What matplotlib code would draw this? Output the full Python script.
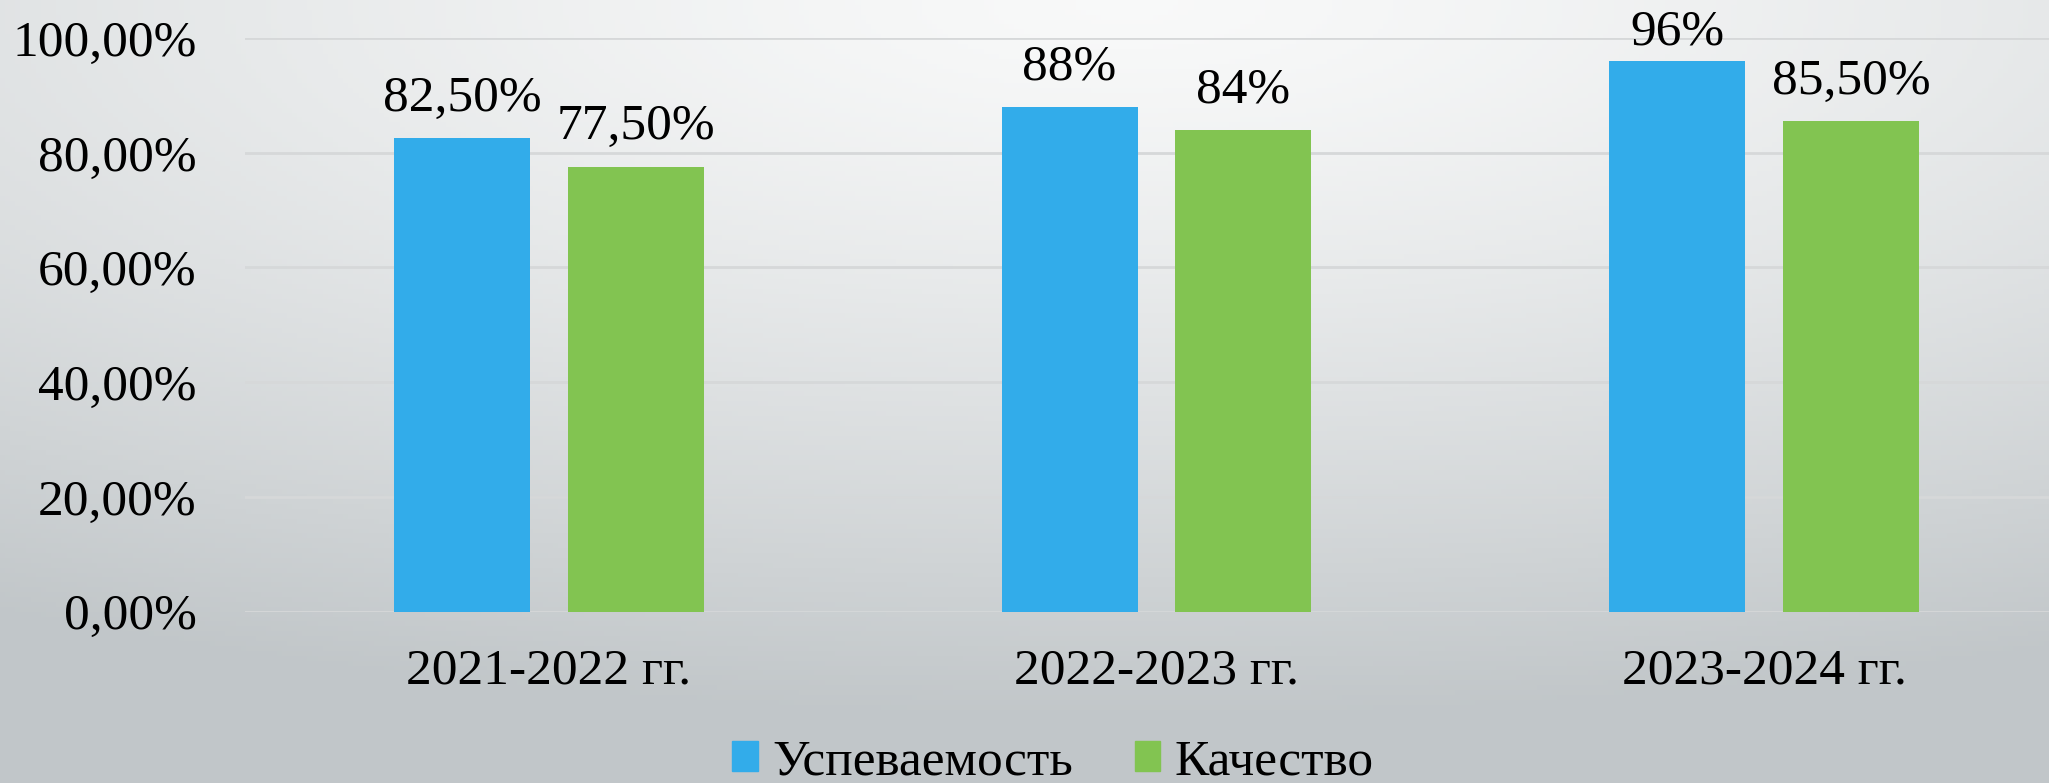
"""Успеваемость и качество по учебным годам: сгруппированные столбцы."""
import matplotlib
matplotlib.use("Agg")
import matplotlib.pyplot as plt
import numpy as np
from matplotlib.patches import Patch

years = ["2021-2022 гг.", "2022-2023 гг.", "2023-2024 гг."]
uspevaemost = [82.5, 88.0, 96.0]
kachestvo = [77.5, 84.0, 85.5]
labels_usp = ["82,50%", "88%", "96%"]
labels_kach = ["77,50%", "84%", "85,50%"]
series_names = ["Успеваемость", "Качество"]

BLUE = "#32ACEA"
GREEN = "#82C451"
FS = 37

plt.rcParams["font.family"] = ["Liberation Serif", "DejaVu Serif"]

W, H = 2049, 783
fig = plt.figure(figsize=(W / 100, H / 100), dpi=100)

# фон: мягкий радиальный градиент (светлее вверху по центру)
bg = fig.add_axes([0, 0, 1, 1], zorder=-10)
gx, gy = np.meshgrid(np.linspace(0, 1, 400), np.linspace(0, 1, 160))
r = np.sqrt((gx - 0.55) ** 2 + (gy * 1.15) ** 2)
r = np.clip(r / 1.05, 0, 1)
c0 = np.array([0.975, 0.978, 0.978])
c1 = np.array([0.76, 0.78, 0.79])
img = c0 + (c1 - c0) * r[..., None] ** 1.3
bg.imshow(img, extent=[0, 1, 0, 1], aspect="auto", origin="upper")
bg.axis("off")

left = 245 / W
right = 2068 / W
bottom = 1 - 611.6 / H
top = 1 - 38 / H
ax = fig.add_axes([left, bottom, right - left, top - bottom])
ax.patch.set_alpha(0)

x = np.arange(len(years))
w = 0.224
off = 0.143
b1 = ax.bar(x - off, uspevaemost, w, color=BLUE, zorder=3)
b2 = ax.bar(x + off, kachestvo, w, color=GREEN, zorder=3)

texts = []
for bars, labs in ((b1, labels_usp), (b2, labels_kach)):
    for rect, lab in zip(bars, labs):
        t = ax.annotate(lab, (rect.get_x() + rect.get_width() / 2, rect.get_height()),
                        xytext=(0, 12), textcoords="offset points",
                        ha="center", va="bottom", fontsize=FS, color="black",
                        annotation_clip=False)
        texts.append(t)

ax.set_xlim(-0.5, 2.5)
ax.set_ylim(0, 100)
ax.set_yticks([0, 20, 40, 60, 80, 100])
ax.set_yticklabels(["0,00%", "20,00%", "40,00%", "60,00%", "80,00%", "100,00%"])
ax.set_xticks(x)
ax.set_xticklabels(years)
ax.tick_params(axis="y", length=0, pad=35, labelsize=FS)
ax.tick_params(axis="x", length=0, pad=26, labelsize=FS)
ax.grid(axis="y", color="#d6d8d9", lw=2, zorder=0)
for s in ax.spines.values():
    s.set_visible(False)

# подписи, которые выходят за верх рисунка, сдвигаем вниз (как в Excel)
fig.canvas.draw()
renderer = fig.canvas.get_renderer()
for t in texts:
    bb = t.get_window_extent(renderer)
    over = bb.y1 - (H - 9)
    if over > 0:
        ox, oy = t.xyann
        t.xyann = (ox, oy - over * 72 / fig.dpi)

handles = [Patch(color=BLUE), Patch(color=GREEN)]
fig.legend(handles, series_names, loc="center", bbox_to_anchor=(1053 / W, 1 - 762 / H),
           ncol=2, frameon=False, fontsize=FS, handlelength=0.5, handleheight=0.5,
           handletextpad=0.28, columnspacing=1.2, borderpad=0, borderaxespad=0)

fig.savefig("out.png", dpi=100)
plt.close(fig)
